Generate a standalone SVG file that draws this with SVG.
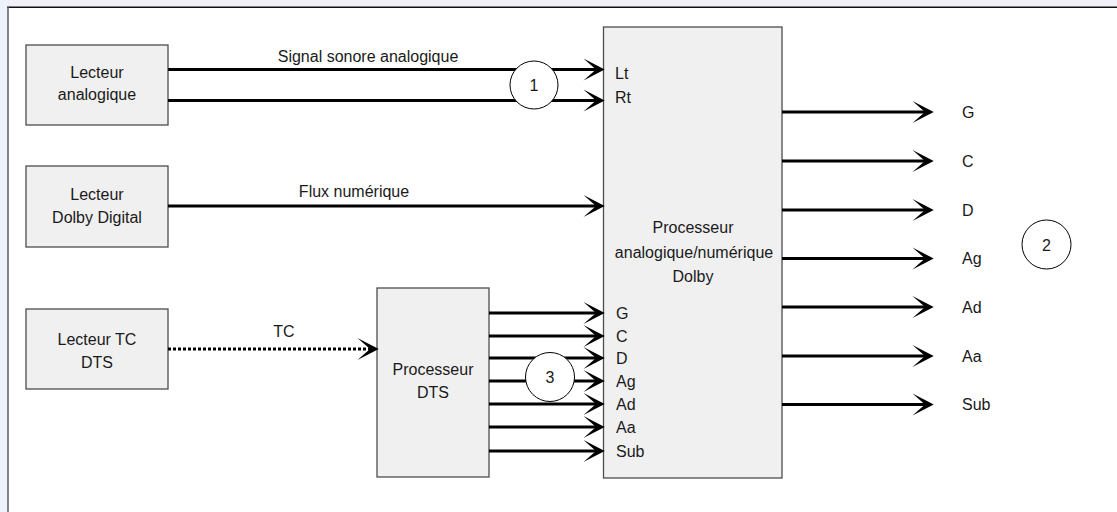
<svg xmlns="http://www.w3.org/2000/svg" width="1117" height="512" viewBox="0 0 1117 512">
<defs>
<style>
.box{fill:#f0f0f0;stroke:#4d4d4d;stroke-width:1.3}
.t{font-family:"Liberation Sans",Arial,sans-serif;font-size:16px;fill:#1a1a1a}
.c{text-anchor:middle}
.ln{fill:none;stroke:#000;stroke-width:3}
.dot{stroke-dasharray:3 2}
.callout{fill:#fff;stroke:#000;stroke-width:1}
</style>
<marker id="arr" markerUnits="userSpaceOnUse" markerWidth="30" markerHeight="24" viewBox="-12 -11 21 22" refX="0" refY="0" orient="auto" overflow="visible">
<path d="M-11.5,-10 L8,0 L-11.5,10 L0,0 Z" fill="#000"/>
</marker>
</defs>
<rect x="0" y="0" width="1117" height="512" fill="#fff"/>
<rect x="0" y="0" width="1117" height="7" fill="#f1f0f9"/>
<rect x="0" y="0" width="7.5" height="512" fill="#eef2fd"/>
<line x1="7" y1="7.3" x2="1117" y2="7.3" stroke="#111" stroke-width="1.5"/>
<line x1="8" y1="7" x2="8" y2="512" stroke="#666" stroke-width="1.6"/>

<g id="lecteur-analogique">
<rect class="box" x="26" y="45" width="142" height="80"/>
<text class="t c" x="97" y="78">Lecteur</text>
<text class="t c" x="97" y="100">analogique</text>
</g>
<g id="lecteur-dolby-digital">
<rect class="box" x="26" y="166" width="142" height="81"/>
<text class="t c" x="97" y="200">Lecteur</text>
<text class="t c" x="97" y="223">Dolby Digital</text>
</g>
<g id="lecteur-tc-dts">
<rect class="box" x="26" y="309" width="142" height="80"/>
<text class="t c" x="97" y="345">Lecteur TC</text>
<text class="t c" x="97" y="368">DTS</text>
</g>
<g id="processeur-dts">
<rect class="box" x="377" y="288" width="112" height="189"/>
<text class="t c" x="433" y="375">Processeur</text>
<text class="t c" x="433" y="398">DTS</text>
</g>
<g id="processeur-dolby">
<rect class="box" x="603.5" y="27" width="178.5" height="451"/>
<text class="t c" x="693" y="233">Processeur</text>
<text class="t c" x="694" y="258">analogique/numérique</text>
<text class="t c" x="693" y="282">Dolby</text>
<text class="t" x="615" y="79">Lt</text>
<text class="t" x="615" y="103">Rt</text>
<text class="t" x="616" y="318.5">G</text>
<text class="t" x="616" y="341.5">C</text>
<text class="t" x="616" y="363.5">D</text>
<text class="t" x="616" y="386.5">Ag</text>
<text class="t" x="616" y="409.5">Ad</text>
<text class="t" x="616" y="432.5">Aa</text>
<text class="t" x="616" y="456.5">Sub</text>
</g>

<g id="connectors">
<path class="ln" d="M168,69.5 H596" marker-end="url(#arr)"/>
<path class="ln" d="M168,100.5 H596" marker-end="url(#arr)"/>
<path class="ln" d="M168,206 H596" marker-end="url(#arr)"/>
<path class="ln dot" d="M168,349 H370" marker-end="url(#arr)"/>
<path class="ln" d="M489,313 H596" marker-end="url(#arr)"/>
<path class="ln" d="M489,336 H596" marker-end="url(#arr)"/>
<path class="ln" d="M489,358 H596" marker-end="url(#arr)"/>
<path class="ln" d="M489,381 H596" marker-end="url(#arr)"/>
<path class="ln" d="M489,404 H596" marker-end="url(#arr)"/>
<path class="ln" d="M489,427 H596" marker-end="url(#arr)"/>
<path class="ln" d="M489,451 H596" marker-end="url(#arr)"/>
<path class="ln" d="M782,112 H925" marker-end="url(#arr)"/>
<path class="ln" d="M782,161 H925" marker-end="url(#arr)"/>
<path class="ln" d="M782,210 H925" marker-end="url(#arr)"/>
<path class="ln" d="M782,258.5 H925" marker-end="url(#arr)"/>
<path class="ln" d="M782,307 H925" marker-end="url(#arr)"/>
<path class="ln" d="M782,356 H925" marker-end="url(#arr)"/>
<path class="ln" d="M782,404.5 H925" marker-end="url(#arr)"/>
<text class="t c" x="368" y="62">Signal sonore analogique</text>
<text class="t c" x="354" y="197">Flux numérique</text>
<text class="t c" x="284" y="337">TC</text>
</g>

<g id="sorties">
<text class="t" x="962" y="117.5">G</text>
<text class="t" x="962" y="166.5">C</text>
<text class="t" x="962" y="215.5">D</text>
<text class="t" x="962" y="264">Ag</text>
<text class="t" x="962" y="312.5">Ad</text>
<text class="t" x="962" y="361.5">Aa</text>
<text class="t" x="962" y="410">Sub</text>
</g>

<g id="repere-1">
<circle class="callout" cx="534" cy="85" r="24"/>
<text class="t c" x="534" y="91">1</text>
</g>
<g id="repere-2">
<circle class="callout" cx="1046.5" cy="244.5" r="24.5"/>
<text class="t c" x="1046.5" y="250.5">2</text>
</g>
<g id="repere-3">
<circle class="callout" cx="550" cy="377" r="24.5"/>
<text class="t c" x="550" y="383">3</text>
</g>
</svg>
